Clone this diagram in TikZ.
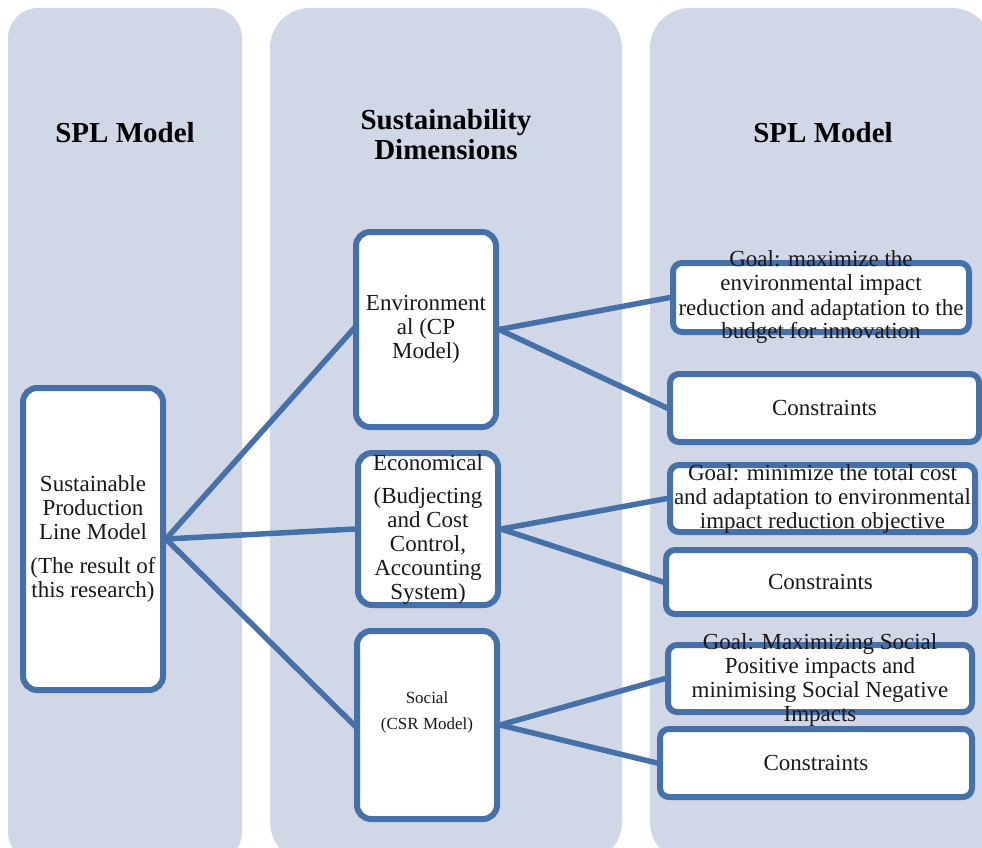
\documentclass[tikz,border=0pt]{standalone}
\usepackage{fontspec}
\setmainfont{Liberation Serif}
\definecolor{cBand}{RGB}{208,216,232}
\definecolor{cEdge}{RGB}{70,113,168}

\begin{document}
\begin{tikzpicture}[
  x=1pt, y=-1pt,
  font=\fontsize{23}{24}\selectfont,
  band/.style={fill=cBand, draw=none},
  box/.style={rectangle, rounded corners=14pt, draw=cEdge, line width=6pt,
    fill=white, inner sep=0pt},
  gbox/.style={box, rounded corners=9pt},
  txt/.style={align=center, inner sep=0pt, text=black!90},
  head/.style={align=center, inner sep=0pt,
    font=\fontsize{29}{30}\selectfont\bfseries},
  link/.style={draw=cEdge, line width=5.5pt, shorten <=-3pt, shorten >=-3pt},
]
\useasboundingbox (0,0) rectangle (982,848);

% three column bands
\begin{scope}
\clip (0,0) rectangle (982,848);
\fill[band, rounded corners=30pt] (8,8) rectangle (242,862);
\fill[band, rounded corners=40pt] (270,8) rectangle (622,862);
\fill[band, rounded corners=40pt] (650,8) rectangle (992,862);
\end{scope}

% column headings
\node[head] (h1) at (125,133) {SPL Model};
\node[head] (h2) at (446,135) {Sustainability\\Dimensions};
\node[head] (h3) at (823,133) {SPL Model};

% model box
\node[box, minimum width=140pt, minimum height=302pt] (spl) at (93,539) {};
\node[txt] (splt) at (spl) {Sustainable\\Production\\Line Model\\[10pt](The result of\\this research)};

% dimensions
\node[box, minimum width=140pt, minimum height=195pt] (env) at (426,329.5) {};
\node[box, minimum width=140pt, minimum height=152pt] (eco) at (428,529) {};
\node[box, minimum width=140pt, minimum height=188pt] (soc) at (427,725) {};
\node[txt] (envt) at (env) {Environment\\al (CP\\Model)};
\node[txt] (ecot) at (eco) {Economical\\[9pt](Budjecting\\and Cost\\Control,\\Accounting\\System)};
\node[txt, font=\fontsize{17}{18}\selectfont] (soct) at (427,712) {Social\\[8pt](CSR Model)};

% goals and constraints
\node[gbox, minimum width=296pt, minimum height=69pt] (g1) at (821,297.5) {};
\node[gbox, minimum width=309pt, minimum height=68pt] (k1) at (824.5,408) {};
\node[gbox, minimum width=305pt, minimum height=67pt] (g2) at (822.5,498.5) {};
\node[gbox, minimum width=309pt, minimum height=64pt] (k2) at (820.5,582) {};
\node[gbox, minimum width=304pt, minimum height=67pt] (g3) at (820,678.5) {};
\node[gbox, minimum width=312pt, minimum height=68pt] (k3) at (816,763) {};
\node[txt] (g1t) at (g1) {Goal: maximize the\\environmental impact\\reduction and adaptation to the\\budget for innovation};
\node[txt] (k1t) at (k1) {Constraints};
\node[txt] (g2t) at (g2) {Goal: minimize the total cost\\and adaptation to environmental\\impact reduction objective};
\node[txt] (k2t) at (k2) {Constraints};
\node[txt] (g3t) at (820,680) {Goal: Maximizing Social\\Positive impacts and\\minimising Social Negative\\Impacts};
\node[txt] (k3t) at (k3) {Constraints};

% links
\draw[link] (spl.east) -- (env.west);
\draw[link] (spl.east) -- (eco.west);
\draw[link] (spl.east) -- (soc.west);
\draw[link] (env.east) -- (g1.west);
\draw[link] (env.east) -- (k1.west);
\draw[link] (eco.east) -- (g2.west);
\draw[link] (eco.east) -- (k2.west);
\draw[link] (soc.east) -- (g3.west);
\draw[link] (soc.east) -- (k3.west);
\end{tikzpicture}
\end{document}
